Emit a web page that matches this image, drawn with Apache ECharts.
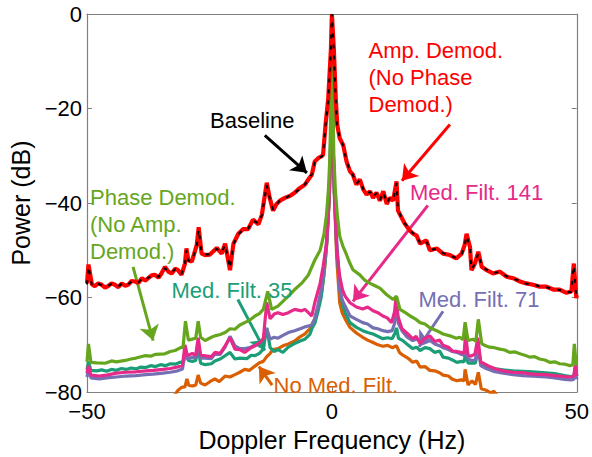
<!DOCTYPE html>
<html>
<head>
<meta charset="utf-8">
<script src="https://cdn.jsdelivr.net/npm/echarts@6/dist/echarts.min.js"></script>
<style>
html,body{margin:0;padding:0;background:#fff;}
#chart{width:592px;height:457px;}
</style>
</head>
<body>
<div id="chart"></div>
<script>
// ---------- data: [Doppler frequency (Hz), power (dB)] ----------
const ampDemod = [[-50,-57],[-49.7,-53],[-49,-57.2],[-48.4,-57.6],[-47.7,-57],[-47,-57.3],[-46.3,-57.9],[-45.7,-57.6],[-45,-57],[-44.3,-57.3],[-43.6,-57.8],[-42.9,-57],[-42.2,-57.5],[-41.6,-57.3],[-40.9,-56.5],[-40.2,-56.6],[-39.5,-56.9],[-38.8,-55.9],[-38.1,-56.4],[-37.5,-55.9],[-36.8,-55.3],[-36.1,-55.2],[-35.4,-55.8],[-34.8,-54.9],[-34.1,-53.5],[-33.4,-54.5],[-32.7,-54.9],[-32,-53.9],[-31.4,-54.2],[-30.7,-55.2],[-30,-52.8],[-29.7,-49.6],[-29.3,-52.1],[-28.6,-52.4],[-27.6,-48.9],[-27.2,-45.1],[-26.6,-50.7],[-25.9,-51],[-24.9,-50.9],[-24.2,-50.2],[-23.5,-49.5],[-22.5,-50.7],[-21.8,-48.6],[-20.8,-54.2],[-20.1,-48.6],[-19.1,-46.5],[-18.1,-45.5],[-17.1,-45.5],[-16.1,-43.5],[-15,-44.5],[-14.3,-42.5],[-13.3,-35.7],[-12.7,-38.9],[-12,-41.6],[-11.3,-40.2],[-10.6,-39.5],[-9.6,-38.9],[-8.6,-38.5],[-7.6,-37.8],[-6.5,-36.8],[-5.5,-36.1],[-4.8,-35],[-4.1,-34],[-3.5,-31.2],[-2.8,-30.5],[-2.1,-30.1],[-1.8,-29.8],[-1.3,-23.5],[-0.75,-18],[-0.2,-7.5],[0,0],[0.4,-7.5],[0.8,-18],[1.1,-23.5],[1.6,-26.3],[2.3,-27.7],[3,-31.2],[3.7,-33.3],[4.3,-34],[5,-36.1],[5.7,-35],[6.4,-37.1],[7.1,-38.2],[7.8,-37.5],[8.4,-38.9],[9.1,-37.8],[9.8,-39.5],[10.5,-37.5],[11.2,-40.2],[11.8,-38.9],[12.5,-39.5],[13.2,-35.4],[13.5,-41.6],[14.2,-43],[14.9,-44.4],[15.9,-45.8],[16.6,-46.5],[17.3,-46.9],[18,-48.6],[19.3,-47.9],[20,-50],[21.4,-49.6],[22.7,-50.7],[24.1,-51],[25.4,-51.7],[26.5,-50.7],[27.1,-48.9],[27.5,-46.5],[28.2,-49.3],[28.5,-54.2],[29.2,-52.8],[29.9,-50.3],[30.6,-53.5],[31.6,-54.2],[32.9,-54.9],[34.3,-54.5],[35.7,-55.6],[37,-55.9],[38.4,-56.6],[39.7,-57],[41.1,-57.3],[42.4,-57.7],[43.8,-57.7],[45.2,-58.3],[46.5,-58.3],[47.9,-59],[48.9,-58.7],[49.4,-52.8],[49.9,-60.1],[50,-59.5]];

const baseline = [[-50,-57.2],[-49.7,-53.4],[-49,-57.4],[-48.4,-57.5],[-47.7,-57.1],[-47,-57.4],[-46.3,-57.7],[-45.7,-57.5],[-45,-57.1],[-44.3,-57.4],[-43.6,-57.6],[-42.9,-57.1],[-42.2,-57.4],[-41.6,-57.2],[-40.9,-56.6],[-40.2,-56.7],[-39.5,-56.8],[-38.8,-56],[-38.1,-56.3],[-37.5,-55.8],[-36.8,-55.4],[-36.1,-55.3],[-35.4,-55.6],[-34.8,-54.8],[-34.1,-53.8],[-33.4,-54.4],[-32.7,-54.7],[-32,-54],[-31.4,-54.3],[-30.7,-55],[-30,-53],[-29.7,-50],[-29.3,-52.2],[-28.6,-52.3],[-27.6,-49.2],[-27.2,-45.6],[-26.6,-50.5],[-25.9,-50.9],[-24.9,-50.8],[-24.2,-50.3],[-23.5,-49.7],[-22.5,-50.5],[-21.8,-48.8],[-20.8,-53.8],[-20.1,-48.7],[-19.1,-46.6],[-18.1,-45.6],[-17.1,-45.4],[-16.1,-43.7],[-15,-44.3],[-14.3,-42.6],[-13.3,-36.2],[-12.7,-39],[-12,-41.4],[-11.3,-40.3],[-10.6,-39.4],[-9.6,-39],[-8.6,-38.4],[-7.6,-37.9],[-6.5,-36.9],[-5.5,-36],[-4.8,-35.1],[-4.1,-33.9],[-3.5,-31.4],[-2.8,-30.4],[-2.1,-30.2],[-1.8,-29.7],[-1.3,-23.7],[-0.75,-18.2],[-0.2,-7.8],[0,0],[0.4,-7.8],[0.8,-18.2],[1.1,-23.7],[1.6,-26.2],[2.3,-27.8],[3,-31.1],[3.7,-33.2],[4.3,-34.1],[5,-35.9],[5.7,-35.2],[6.4,-37],[7.1,-38.1],[7.8,-37.6],[8.4,-38.8],[9.1,-37.9],[9.8,-39.4],[10.5,-37.7],[11.2,-40],[11.8,-39],[12.5,-39.4],[13.2,-35.8],[13.5,-41.4],[14.2,-43.1],[14.9,-44.3],[15.9,-45.7],[16.6,-46.4],[17.3,-47],[18,-48.4],[19.3,-48],[20,-49.9],[21.4,-49.7],[22.7,-50.6],[24.1,-51.1],[25.4,-51.6],[26.5,-50.8],[27.1,-49],[27.5,-46.9],[28.2,-49.4],[28.5,-54],[29.2,-52.9],[29.9,-50.6],[30.6,-53.4],[31.6,-54.1],[32.9,-54.8],[34.3,-54.6],[35.7,-55.5],[37,-56],[38.4,-56.5],[39.7,-57.1],[41.1,-57.2],[42.4,-57.6],[43.8,-57.8],[45.2,-58.2],[46.5,-58.4],[47.9,-58.9],[48.9,-58.8],[49.4,-53.2],[49.9,-59.9],[50,-59.4]];

const phaseDemod = [[-50,-73.6],[-49.7,-69.8],[-49.2,-73.7],[-48,-73.8],[-46.3,-73.9],[-45,-73.4],[-44,-73.6],[-42.2,-73.3],[-41,-73],[-40,-72.8],[-38.2,-72.3],[-37,-72.4],[-36,-72],[-34.1,-71.9],[-33,-71.4],[-32,-71.2],[-30.7,-70.5],[-30.4,-70.6],[-29.9,-65],[-29.3,-69],[-28.5,-68.8],[-27.8,-68.6],[-27.3,-65],[-26.8,-68.4],[-25.9,-69.1],[-24.6,-68.4],[-23.9,-68.1],[-22.8,-67.8],[-21.8,-67.4],[-20.8,-66.6],[-19.8,-66.7],[-18.8,-65.8],[-17.8,-65.3],[-16.8,-64.8],[-15.7,-63.9],[-14.8,-63.4],[-14,-62.5],[-13.1,-58.7],[-12.3,-62.5],[-11,-61.8],[-10,-60.8],[-8.9,-59.7],[-7.6,-58.3],[-6.2,-57],[-4.8,-55.2],[-3.5,-52.1],[-2.4,-50],[-1.6,-46.5],[-1.1,-42.5],[-0.7,-37],[-0.4,-30],[-0.15,-15],[0,0],[0.15,-15],[0.4,-30],[0.7,-37],[1.1,-42.5],[1.6,-47],[2.2,-49],[2.7,-50.2],[3.7,-52.8],[4.3,-54.1],[5.7,-55.2],[6.7,-56.3],[7.8,-57],[8.8,-57.5],[9.8,-58],[11.2,-59.4],[12.5,-60.4],[13.2,-59.7],[13.9,-62.5],[15,-63.2],[16,-63.9],[17,-64.5],[18,-65.3],[19,-65.6],[20,-66.4],[21.4,-67],[22.7,-67.7],[24.1,-68.1],[25.4,-68.6],[26.1,-68.4],[26.8,-68.9],[27.2,-65.2],[27.8,-69.1],[28.8,-68.8],[29.4,-69.2],[29.9,-64.6],[30.6,-69.8],[31.4,-70.2],[32.2,-70.5],[33.2,-70.6],[34.3,-70.9],[35.3,-71.1],[36.3,-71.6],[37.4,-71.5],[38.4,-71.9],[39.4,-72.2],[40.4,-72.6],[41.4,-72.5],[42.4,-73],[43.5,-73.2],[44.5,-73.7],[45.5,-73.6],[46.5,-74],[47.6,-74.1],[48.6,-74.4],[49.2,-74.2],[49.5,-69.8],[49.9,-74.4],[50,-74.3]];

const medFilt35 = [[-50,-75.3],[-49.7,-73.5],[-49.2,-75.4],[-48,-75.5],[-47,-75.3],[-46,-75.6],[-45,-75.2],[-44,-75.4],[-43,-75],[-42,-75.2],[-41,-74.9],[-40,-75.1],[-39,-74.7],[-38,-74.8],[-37,-74.4],[-36,-74.6],[-35,-74.2],[-34,-74.4],[-33,-74],[-32,-74.1],[-31,-73.7],[-30.3,-73.6],[-29.9,-71.6],[-29.3,-73.3],[-28.5,-73.5],[-27.8,-73.3],[-27.3,-70.8],[-26.8,-73.9],[-25.9,-74.2],[-24.6,-74],[-23.9,-73.4],[-22.8,-73],[-21.8,-72.3],[-20.8,-71.6],[-19.8,-73],[-18.8,-72.8],[-17.3,-72.9],[-16.5,-72.2],[-15.7,-72.3],[-14.8,-71.8],[-14,-70.9],[-13.3,-66.4],[-12.6,-70.6],[-11.8,-71.4],[-11,-71],[-10,-71.6],[-8.9,-70.5],[-7.6,-69.7],[-6.5,-69.2],[-5.5,-68.8],[-4.5,-67.8],[-4.1,-66.6],[-3.5,-65.5],[-2.9,-63.2],[-2.2,-60],[-1.6,-55],[-1,-48],[-0.5,-38],[-0.2,-25],[0,0],[0.2,-25],[0.5,-38],[1,-50],[1.6,-57.5],[2.1,-61],[2.7,-63.2],[3.7,-65.3],[5,-66.3],[6.3,-67],[7.3,-67.4],[8.4,-67.7],[9.4,-68.2],[10.4,-68.7],[11.4,-68.5],[12.3,-68.7],[12.9,-67.5],[13.2,-66.4],[13.6,-68.6],[14.5,-69.1],[15.5,-70],[16.5,-70.8],[17.3,-70.5],[18,-71.2],[19,-70.6],[20,-70.8],[21,-71.6],[22,-71.3],[22.7,-72.6],[23.8,-72.8],[24.6,-73.2],[25.5,-73.7],[26.5,-73.5],[27,-73.6],[27.3,-71.4],[27.8,-73.9],[28.6,-73.8],[29.3,-73.9],[29.9,-70.6],[30.5,-74.4],[31.5,-74.6],[33,-75],[35,-75.3],[37,-75.5],[39,-75.6],[41,-75.7],[43.7,-75.9],[45.5,-76.1],[47.5,-76.5],[48.8,-76.7],[49.4,-76.6],[49.7,-74.6],[50,-76.6]];

const medFilt71 = [[-50,-76.8],[-49.7,-75],[-49.2,-77],[-47.5,-77.2],[-46,-77],[-44,-76.8],[-42,-76.6],[-40,-76.5],[-38,-76.3],[-36.5,-76.2],[-34.5,-76],[-33,-75.8],[-31.5,-75.5],[-30.5,-75.1],[-30,-71.5],[-29.5,-73],[-28.5,-72.6],[-27.8,-72.8],[-27.3,-69.5],[-26.8,-72.8],[-25.9,-72.8],[-24.6,-72.9],[-23.9,-72],[-22.8,-72],[-21.8,-70.5],[-20.8,-68.2],[-19.8,-70.2],[-18.8,-70.8],[-17.8,-70.8],[-16.8,-70.6],[-15.7,-70],[-14.8,-69.7],[-14,-69.2],[-13.3,-66.6],[-12.6,-68.8],[-11.8,-68.4],[-11,-68.6],[-10,-68],[-8.9,-67.4],[-7.6,-67],[-6.2,-66.5],[-5.5,-66.2],[-4.8,-66],[-4.1,-65.8],[-3.5,-64.5],[-2.9,-61.8],[-2.2,-58.5],[-1.6,-54],[-1,-47],[-0.5,-37],[-0.2,-25],[0,0],[0.2,-25],[0.5,-37],[1,-48],[1.6,-58.3],[2.1,-60.5],[2.7,-61.8],[3.7,-63.9],[5,-64.6],[6.3,-65.3],[7.3,-65.6],[8.4,-66.4],[9.4,-66.6],[10.4,-67],[11.4,-67.2],[12.3,-67],[12.8,-65.5],[13.2,-61.8],[13.6,-65.5],[14.3,-67],[15.3,-68.3],[16.5,-69.1],[17.3,-68.8],[18,-69.1],[19,-69.4],[20,-69],[21,-69.8],[22,-70.2],[22.7,-70.6],[23.8,-71],[24.6,-71.4],[25.5,-71.6],[26.4,-72],[27,-72.2],[27.3,-69.5],[27.8,-73],[28.6,-73.3],[29.3,-73.2],[29.8,-70.2],[30.4,-74.4],[31.5,-75],[33,-75.6],[35,-76],[37,-76.3],[39,-76.5],[41,-76.6],[43.7,-76.8],[45.5,-77],[47.5,-77.3],[48.8,-77.4],[49.4,-77.3],[49.7,-75],[50,-77.3]];

const medFilt141 = [[-50,-76],[-49.7,-74.4],[-49.2,-76.4],[-47.5,-76.6],[-46,-76.4],[-44,-76],[-42,-75.8],[-40,-75.7],[-38,-75.5],[-36.5,-75.4],[-34.5,-75.2],[-33,-75],[-31.5,-74.7],[-30.5,-74.3],[-30,-70],[-29.5,-72.3],[-28.5,-71.8],[-27.8,-72.2],[-27.3,-68.5],[-26.8,-72.2],[-25.9,-72.3],[-24.6,-72.5],[-23.9,-71.6],[-22.8,-71.8],[-21.8,-70.2],[-20.8,-68.5],[-19.8,-70.9],[-18.8,-71],[-17.8,-71.6],[-16.8,-70.8],[-15.7,-70.2],[-14.8,-69.6],[-14,-68.8],[-13.3,-61],[-12.6,-64.5],[-11.8,-63.5],[-11,-63.2],[-10,-63.6],[-8.9,-63.2],[-7.6,-62.5],[-6.2,-62.8],[-5.5,-62.5],[-4.8,-63.2],[-4.1,-63.9],[-3.5,-61.1],[-2.4,-57],[-1.8,-53.5],[-1.1,-48.6],[-0.6,-40],[-0.3,-30],[0,0],[0.3,-30],[0.6,-40],[1,-50],[1.6,-55.5],[2.2,-58.5],[2.7,-59.7],[3.7,-61.1],[5,-62],[6.3,-62.4],[7.3,-62],[8.4,-62.8],[9.4,-63.2],[10.4,-63.9],[11.3,-64.3],[12.2,-65.3],[12.8,-63],[13.1,-59.7],[13.5,-64],[14.3,-66.6],[15.3,-67.5],[16.5,-68.7],[17.2,-68.2],[18,-69.7],[19,-68.6],[20,-68.1],[21,-69.3],[22,-69],[22.7,-70.1],[23.8,-70.5],[24.6,-71.3],[25.5,-71.4],[26.4,-71.6],[27,-71.8],[27.3,-67.8],[27.8,-72.2],[28.4,-72.4],[29.2,-72],[29.8,-68.5],[30.4,-73.7],[31,-73.9],[32.2,-74.6],[33.5,-75.1],[35,-75.5],[37,-75.8],[39,-75.9],[41,-76.2],[43.7,-76.3],[45.5,-76.5],[47.5,-76.7],[48.8,-76.8],[49.4,-76.6],[49.7,-74.3],[50,-76.6]];

const noMedFilt = [[-50,-83],[-40,-83],[-33,-82],[-32,-80.5],[-31.4,-79.6],[-30.7,-79],[-30,-78.9],[-29.6,-77.2],[-29.2,-78.6],[-28.4,-78.7],[-27.8,-78.5],[-27.3,-76.4],[-26.8,-78.1],[-25.9,-78.5],[-24.9,-77.8],[-23.9,-77.2],[-23,-77.8],[-21.8,-76.6],[-20.8,-76.8],[-19.8,-76.3],[-18.8,-75.8],[-17.8,-75.2],[-16.8,-75.4],[-15.7,-74.5],[-14.8,-73.8],[-14,-73.5],[-13.3,-72.5],[-12.6,-71.8],[-12,-71],[-11,-70.8],[-10,-70.2],[-8.9,-69.8],[-7.6,-69.2],[-6.5,-68.3],[-5.5,-67.7],[-4.5,-66.6],[-3.5,-64.5],[-2.8,-62],[-2.1,-59],[-1.5,-54],[-1,-48],[-0.5,-38],[-0.2,-25],[0,0],[0.2,-25],[0.5,-38],[1,-52],[1.6,-61.1],[2.1,-63.2],[2.7,-64.5],[3.7,-66.3],[5,-67.5],[6.3,-68.4],[7.3,-69],[8.4,-69.5],[9.4,-70],[10.4,-70.3],[11.4,-70.1],[12.3,-70.6],[13.2,-70.2],[13.8,-71.6],[14.5,-72.2],[15.5,-72.8],[16.5,-73.7],[17.3,-73.4],[18,-74.7],[19,-74.6],[20,-75.4],[21,-75.5],[22,-75.9],[22.7,-76.4],[23.8,-76.6],[24.6,-77.3],[25.5,-77.6],[26.4,-77.4],[27,-77.6],[27.2,-75.2],[27.8,-78.5],[28.6,-77.6],[29.3,-78.4],[29.9,-75.8],[30.5,-79.3],[31.5,-79.6],[32.5,-80.2],[33,-79.8],[34,-81],[36,-82],[50,-83]];

// ---------- axis ticks ----------
const xTicks = [-50, 0, 50];
const yTicks = [-80, -60, -40, -20, 0];

const BLACK = '#000000', RED = '#ff0000', GREEN = '#66a61e', TEAL = '#1b9e77',
      PURPLE = '#7570b3', PINK = '#e7298a', ORANGE = '#d95f02', AXIS = '#808080';
const FONT = '"Liberation Sans", Arial, Helvetica, sans-serif';
const fmt = v => (v < 0 ? '\u2212' + Math.abs(v) : String(v));

function arrow(color, from, to) {
  return {
    silent: true,
    animation: false,
    symbol: ['none', 'arrow'],
    symbolSize: 15,
    label: { show: false },
    lineStyle: { color: color, width: 3, type: 'solid' },
    emphasis: { disabled: true },
    data: [[{ coord: from }, { coord: to }]]
  };
}

function lineSeries(name, data, color, width, z, extra) {
  return Object.assign({
    name: name, type: 'line', data: data, showSymbol: false, symbol: 'none',
    clip: true, animation: false, z: z,
    lineStyle: { color: color, width: width },
    emphasis: { disabled: true }
  }, extra || {});
}

const chart = echarts.init(document.getElementById('chart'), null, { renderer: 'svg' });

const txt = (left, top, text, color) => ({
  type: 'text', left: left, top: top, silent: true, z: 100,
  style: { text: text, fill: color, font: '22px ' + FONT, lineHeight: 27 }
});

chart.setOption({
  backgroundColor: '#ffffff',
  animation: false,
  grid: { left: 87, right: 15, top: 14, bottom: 60, containLabel: false },
  xAxis: [{
    type: 'value', min: -50, max: 50, interval: 50,
    name: 'Doppler Frequency (Hz)', nameLocation: 'middle', nameGap: 30,
    nameTextStyle: { fontSize: 25, fontFamily: FONT, color: '#000' },
    axisLine: { show: true, onZero: false, lineStyle: { color: AXIS, width: 1.2 } },
    axisTick: { show: true, inside: true, length: 5, lineStyle: { color: AXIS } },
    axisLabel: { fontSize: 22, fontFamily: FONT, color: '#000', margin: 8,
      formatter: v => (xTicks.indexOf(v) >= 0 ? fmt(v) : '') },
    splitLine: { show: false }
  }, {
    type: 'value', min: -50, max: 50, interval: 50, position: 'top',
    axisLine: { show: true, onZero: false, lineStyle: { color: AXIS, width: 1.2 } },
    axisTick: { show: true, inside: true, length: 5, lineStyle: { color: AXIS } },
    axisLabel: { show: false }, splitLine: { show: false }
  }],
  yAxis: [{
    type: 'value', min: -80, max: 0, interval: 20,
    name: 'Power (dB)', nameLocation: 'middle', nameGap: 49,
    nameTextStyle: { fontSize: 25, fontFamily: FONT, color: '#000' },
    axisLine: { show: true, onZero: false, lineStyle: { color: AXIS, width: 1.2 } },
    axisTick: { show: true, inside: true, length: 5, lineStyle: { color: AXIS } },
    axisLabel: { fontSize: 22, fontFamily: FONT, color: '#000', margin: 5,
      formatter: v => (yTicks.indexOf(v) >= 0 ? fmt(v) : '') },
    splitLine: { show: false }
  }, {
    type: 'value', min: -80, max: 0, interval: 20, position: 'right',
    axisLine: { show: true, onZero: false, lineStyle: { color: AXIS, width: 1.2 } },
    axisTick: { show: true, inside: true, length: 5, lineStyle: { color: AXIS } },
    axisLabel: { show: false }, splitLine: { show: false }
  }],
  series: [
    lineSeries('No Med. Filt.', noMedFilt, ORANGE, 3.2, 2,
      { markLine: arrow(ORANGE, [-12.2, -78.5], [-14.9, -74.6]) }),
    lineSeries('Med. Filt. 35', medFilt35, TEAL, 3.2, 3,
      { markLine: arrow(TEAL, [-19.2, -60.4], [-13.7, -71.2]) }),
    lineSeries('Med. Filt. 71', medFilt71, PURPLE, 3.2, 4,
      { markLine: arrow(PURPLE, [22.7, -62.9], [17.8, -70.4]) }),
    lineSeries('Med. Filt. 141', medFilt141, PINK, 3.2, 5,
      { markLine: arrow(PINK, [19.6, -40.5], [4.3, -60.8]) }),
    lineSeries('Phase Demod.', phaseDemod, GREEN, 3.2, 6,
      { markLine: arrow(GREEN, [-40.6, -53.5], [-36.5, -69.1]) }),
    lineSeries('Amp. Demod.', ampDemod, RED, 4.2, 7,
      { markLine: arrow(RED, [24.1, -23.4], [14.3, -35.3]) }),
    lineSeries('Baseline', baseline, BLACK, 2, 8,
      { lineStyle: { color: BLACK, width: 2, type: [4, 7] },
        markLine: arrow(BLACK, [-13.7, -25.7], [-5.1, -33.6]) })
  ],
  graphic: [
    txt(210, 107, 'Baseline', BLACK),
    txt(368.5, 37, 'Amp. Demod.\n(No Phase\nDemod.)', RED),
    txt(90, 183.5, 'Phase Demod.\n(No Amp.\nDemod.)', GREEN),
    txt(410, 179, 'Med. Filt. 141', PINK),
    txt(171.5, 277, 'Med. Filt. 35', TEAL),
    txt(418.5, 286, 'Med. Filt. 71', PURPLE),
    txt(273.5, 372, 'No Med. Filt.', ORANGE)
  ]
});
</script>
</body>
</html>
